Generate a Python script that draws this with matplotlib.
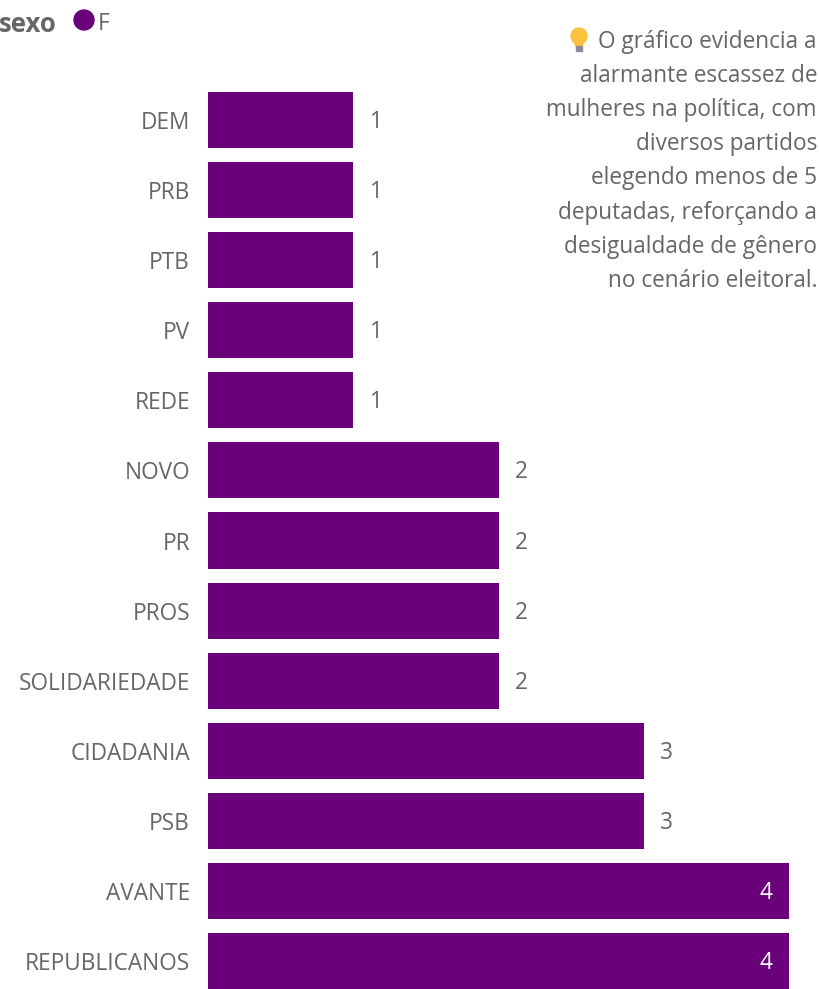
import matplotlib
matplotlib.use("Agg")
import matplotlib.pyplot as plt
import matplotlib.patches as mpatches

partidos = ["DEM", "PRB", "PTB", "PV", "REDE", "NOVO", "PR", "PROS", "SOLIDARIEDADE",
            "CIDADANIA", "PSB", "AVANTE", "REPUBLICANOS"]
deputadas = [1, 1, 1, 1, 1, 2, 2, 2, 2, 3, 3, 4, 4]
nota = ["O gráfico evidencia a", "alarmante escassez de", "mulheres na política, com",
        "diversos partidos", "elegendo menos de 5", "deputadas, reforçando a",
        "desigualdade de gênero", "no cenário eleitoral."]

W, H = 819, 989
roxo = "#6b007b"
cinza = "#666666"
fs = 16.3
plt.rcParams["font.family"] = ["Open Sans", "DejaVu Sans"]

fig = plt.figure(figsize=(W / 100, H / 100), dpi=100)
ax = fig.add_axes([208 / W, 0, (789 - 208) / W, (989 - 85) / H])

ax.barh(range(len(partidos)), deputadas, height=0.8, color=roxo)
ax.set_xlim(0, 4)
ax.set_ylim(12.4, -0.5)
ax.set_xticks([])
ax.set_yticks(range(len(partidos)), partidos)
ax.tick_params(axis="y", length=0, pad=13, labelsize=fs, labelcolor=cinza)
for s in ax.spines.values():
    s.set_visible(False)

for i, v in enumerate(deputadas):
    if v == 4:
        ax.annotate(str(v), (v, i), xytext=(-12, 0.7), textcoords="offset points", color="white",
                    fontsize=fs, ha="right", va="center_baseline")
    else:
        ax.annotate(str(v), (v, i), xytext=(12, 0.7), textcoords="offset points", color=cinza,
                    fontsize=fs, ha="left", va="center_baseline")

# legenda
fig.text(-1 / W, 1 - 22 / H, "sexo", fontsize=18.5, fontweight="bold", color=cinza, va="center_baseline")
fig.add_artist(mpatches.Ellipse((84 / W, 1 - 20 / H), 20 / W, 20 / H, color=roxo, transform=fig.transFigure))
fig.text(98 / W, 1 - 21 / H, "F", fontsize=fs, color=cinza, va="center_baseline")

# nota
for i, linha in enumerate(nota):
    fig.text(817 / W, 1 - (39 + i * 34.1) / H, linha, fontsize=fs, color=cinza, ha="right", va="center_baseline")

# lampada
fig.add_artist(mpatches.Ellipse((579 / W, 1 - 36 / H), 16 / W, 16 / H, color="#fdc13d", transform=fig.transFigure))
fig.add_artist(mpatches.Polygon([(574 / W, 1 - 41 / H), (584 / W, 1 - 41 / H), (582 / W, 1 - 46 / H), (576 / W, 1 - 46 / H)],
                                color="#fdc13d", transform=fig.transFigure))
fig.add_artist(mpatches.Rectangle((576 / W, 1 - 51 / H), 6 / W, 5 / H, color="#8f8a99", transform=fig.transFigure))

fig.savefig("out.png", dpi=100)
